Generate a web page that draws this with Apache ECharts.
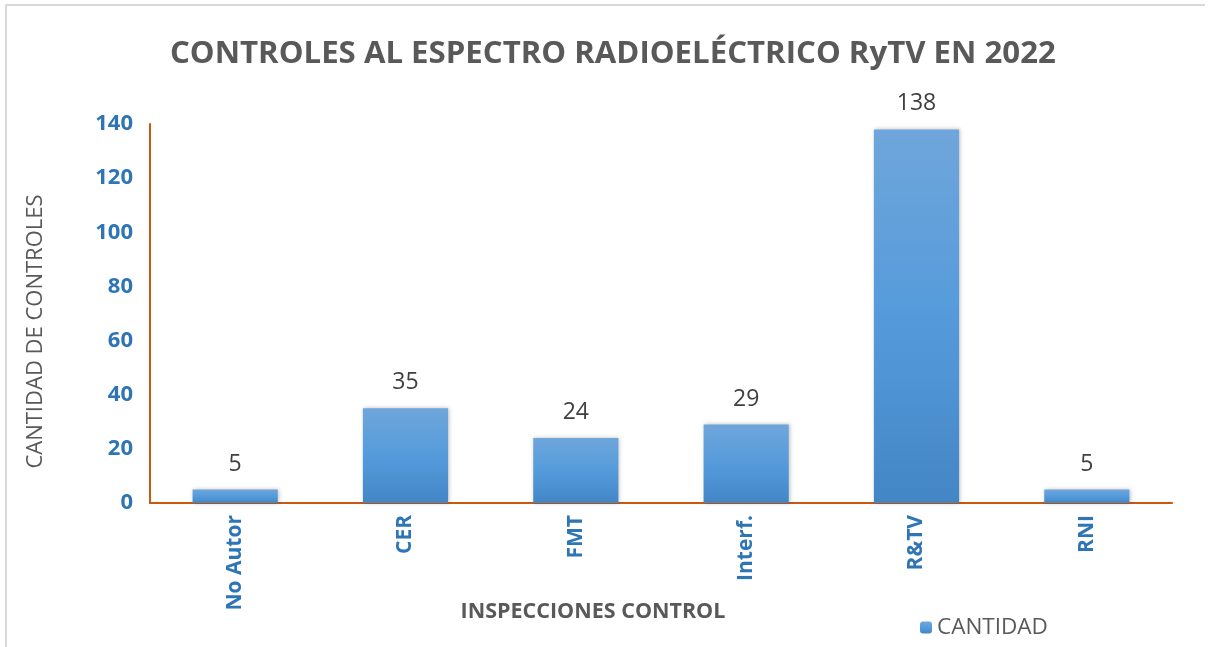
<!DOCTYPE html>
<html>
<head>
<meta charset="utf-8">
<script src="https://cdn.jsdelivr.net/npm/echarts@6/dist/echarts.min.js"></script>
<style>
  html, body { margin: 0; padding: 0; background: #fff; }
  #chart { position: absolute; left: 5px; top: 4px; width: 1200px; height: 643px;
           border-left: 2px solid #d9d9d9; border-top: 2px solid #d9d9d9; box-sizing: border-box; }
</style>
</head>
<body>
<div id="chart"></div>
<script>
// datos del gráfico
const categorias = ['No Autor', 'CER', 'FMT', 'Interf.', 'R&TV', 'RNI'];
const cantidad = [5, 35, 24, 29, 138, 5];

const azul = '#2E75B6';
const gris = '#595959';
const naranja = '#C55A11';

const chart = echarts.init(document.getElementById('chart'));
chart.setOption({
  animation: false,
  title: {
    text: 'CONTROLES AL ESPECTRO RADIOELÉCTRICO RyTV EN 2022',
    left: 158,
    top: 28,
    textStyle: { fontFamily: 'Open Sans', fontSize: 31.2, fontWeight: 'bold', color: gris }
  },
  grid: { left: 143, right: 33, top: 118, bottom: 144 },
  legend: {
    data: ['CANTIDAD'],
    left: 908,
    top: 605,
    itemWidth: 12,
    itemHeight: 12,
    itemGap: 8,
    textStyle: { fontFamily: 'Open Sans', fontSize: 22.5, color: gris }
  },
  xAxis: {
    type: 'category',
    data: categorias,
    name: 'INSPECCIONES CONTROL',
    nameLocation: 'middle',
    nameGap: 98,
    nameMoveOverlap: false,
    nameTextStyle: { fontFamily: 'Open Sans', fontSize: 21.5, fontWeight: 'bold', color: gris, padding: [0, 136, 0, 0] },
    axisLine: { lineStyle: { color: naranja, width: 2 } },
    axisTick: { show: false },
    axisLabel: {
      rotate: 90, margin: 12,
      fontFamily: 'Open Sans', fontSize: 21, fontWeight: 'bold', color: azul
    }
  },
  yAxis: {
    type: 'value',
    min: 0,
    max: 140,
    interval: 20,
    name: 'CANTIDAD DE CONTROLES',
    nameLocation: 'middle',
    nameGap: 103,
    nameTextStyle: { fontFamily: 'Open Sans', fontSize: 22, color: gris, padding: [0, 36, 0, 0] },
    axisLine: { show: true, lineStyle: { color: naranja, width: 2 } },
    axisTick: { show: false },
    splitLine: { show: false },
    axisLabel: { margin: 17, fontFamily: 'Open Sans', fontSize: 22, fontWeight: 'bold', color: azul }
  },
  series: [{
    name: 'CANTIDAD',
    type: 'bar',
    data: cantidad,
    barWidth: '50%',
    itemStyle: {
      color: new echarts.graphic.LinearGradient(0, 0, 0, 1, [
        { offset: 0, color: '#6FA6DB' },
        { offset: 0.5, color: '#559BDB' },
        { offset: 1, color: '#4386C6' }
      ]),
      shadowColor: 'rgba(0,0,0,0.25)',
      shadowBlur: 4,
      shadowOffsetX: 1
    },
    label: {
      show: true,
      position: 'top',
      distance: 14,
      fontFamily: 'Open Sans',
      fontSize: 23,
      color: '#404040'
    }
  }]
});
</script>
</body>
</html>
